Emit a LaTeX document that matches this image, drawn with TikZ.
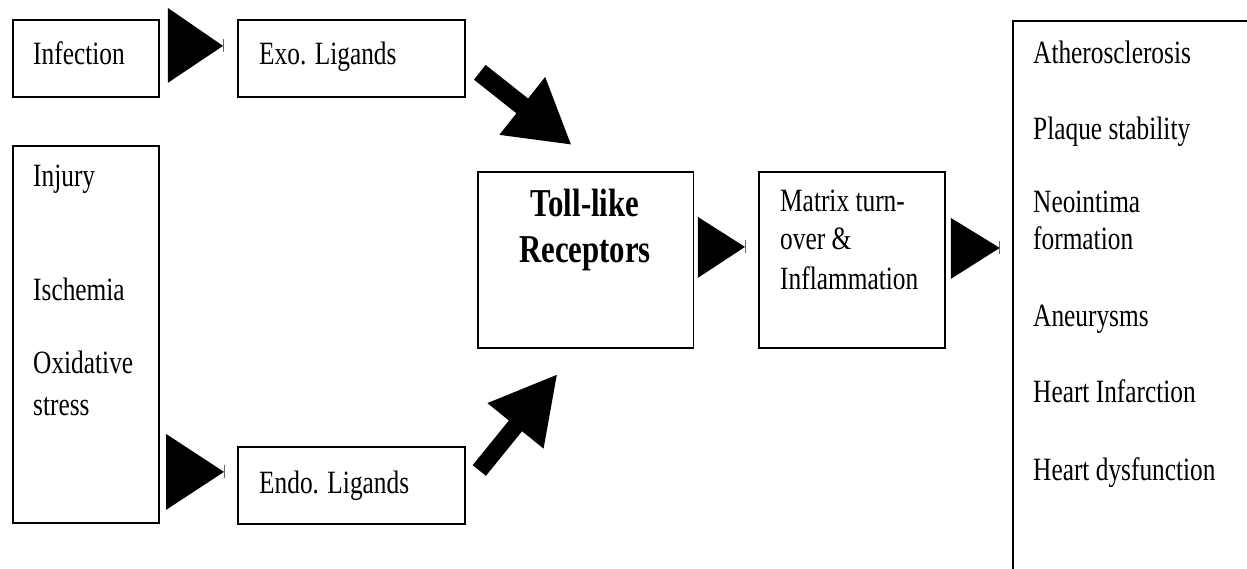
\documentclass[tikz,border=0pt]{standalone}
\usepackage{fontspec}
\setmainfont{Liberation Serif}[FakeStretch=0.78]
\usetikzlibrary{arrows.meta,calc}
\begin{document}
\begin{tikzpicture}[x=1pt,y=-1pt,
  box/.style={draw=black,line width=1.8pt,rectangle,inner sep=0pt,anchor=north west},
  txt/.style={anchor=base west,inner sep=0pt,font=\fontsize{32.5}{39}\selectfont},
  btxt/.style={anchor=base,inner sep=0pt,font=\fontsize{39.5}{45}\selectfont\bfseries},
  tri/.style={fill=black},
  tick/.style={draw=black!60,line width=0.7pt},
  bigarrow/.style={draw=black,line cap=butt}
]
\useasboundingbox (0,0) rectangle (1247,569);
\clip (0,0) rectangle (1247,569);
\fill[white] (0,0) rectangle (1247,569);

% boxes
\node[box,minimum width=146pt,minimum height=77pt] (inf) at (12,19) {};
\node[box,minimum width=227pt,minimum height=77pt] (exo) at (237,19) {};
\node[box,minimum width=146pt,minimum height=377pt] (left) at (12,145) {};
\node[box,minimum width=227pt,minimum height=77pt] (endo) at (237,446) {};
\node[box,minimum width=215.5pt,minimum height=176pt] (toll) at (477,171) {};
\node[box,minimum width=186pt,minimum height=176pt] (mat) at (758,171) {};
\node[box,minimum width=238pt,minimum height=600pt] (rb) at (1012,20) {};

% texts
\node[txt] (tinf) at (33,65) {Infection};
\node[txt] (texo) at (259,65) {Exo. Ligands};
\node[txt] (tinj) at (33,187) {Injury};
\node[txt] (tisc) at (33,300) {Ischemia};
\node[txt] (toxi) at (33,373) {Oxidative};
\node[txt] (tstr) at (33,415) {stress};
\node[txt] (tendo) at (259,493) {Endo. Ligands};
\node[btxt] (ttl1) at (585,217) {Toll-like};
\node[btxt] (ttl2) at (585,262) {Receptors};
\node[txt] (tm1) at (780,212) {Matrix turn-};
\node[txt] (tm2) at (780,250) {over \&};
\node[txt] (tm3) at (780,290) {Inflammation};
\node[txt] (r1) at (1033,64) {Atherosclerosis};
\node[txt] (r2) at (1033,140) {Plaque stability};
\node[txt] (r3) at (1033,213) {Neointima};
\node[txt] (r4) at (1033,250) {formation};
\node[txt] (r5) at (1033,326) {Aneurysms};
\node[txt] (r6) at (1033,402) {Heart Infarction};
\node[txt] (r7) at (1033,480) {Heart dysfunction};

% triangle connectors
\fill[tri] ($(inf.east)+(8,-50.5)$) -- ($(inf.east)+(8,24.5)$) -- ($(exo.west)+(-14,-12.5)$) -- cycle;
\draw[tick] ($(exo.west)+(-14,-19)$) -- ($(exo.west)+(-14,-6)$);
\fill[tri] ($(endo.west)+(-71,-51.5)$) -- ($(endo.west)+(-71,24.5)$) -- ($(endo.west)+(-13,-13.5)$) -- cycle;
\draw[tick] ($(endo.west)+(-13,-20)$) -- ($(endo.west)+(-13,-7)$);
\fill[tri] ($(toll.east)+(3.5,-43)$) -- ($(toll.east)+(3.5,18)$) -- ($(mat.west)+(-13,-13)$) -- cycle;
\draw[tick] ($(mat.west)+(-13,-19.5)$) -- ($(mat.west)+(-13,-6.5)$);
\fill[tri] ($(mat.east)+(5,-42)$) -- ($(mat.east)+(5,19)$) -- ($(mat.east)+(54,-12)$) -- cycle;
\draw[tick] ($(mat.east)+(54,-18.5)$) -- ($(mat.east)+(54,-5.5)$);

% big arrows
\coordinate (a1s) at ($(exo.south east)+(14,-25.5)$);
\coordinate (a1e) at ($(toll.north)+(-14,-26)$);
\draw[bigarrow,line width=18.8pt,-{Triangle[length=63pt,width=69pt]}] (a1s) -- (a1e);
\coordinate (a2s) at ($(endo.north east)+(13.5,24.5)$);
\coordinate (a2e) at ($(toll.south)+(-28,25)$);
\draw[bigarrow,line width=17pt,-{Triangle[length=67pt,width=67pt]}] (a2s) -- (a2e);
\end{tikzpicture}
\end{document}
